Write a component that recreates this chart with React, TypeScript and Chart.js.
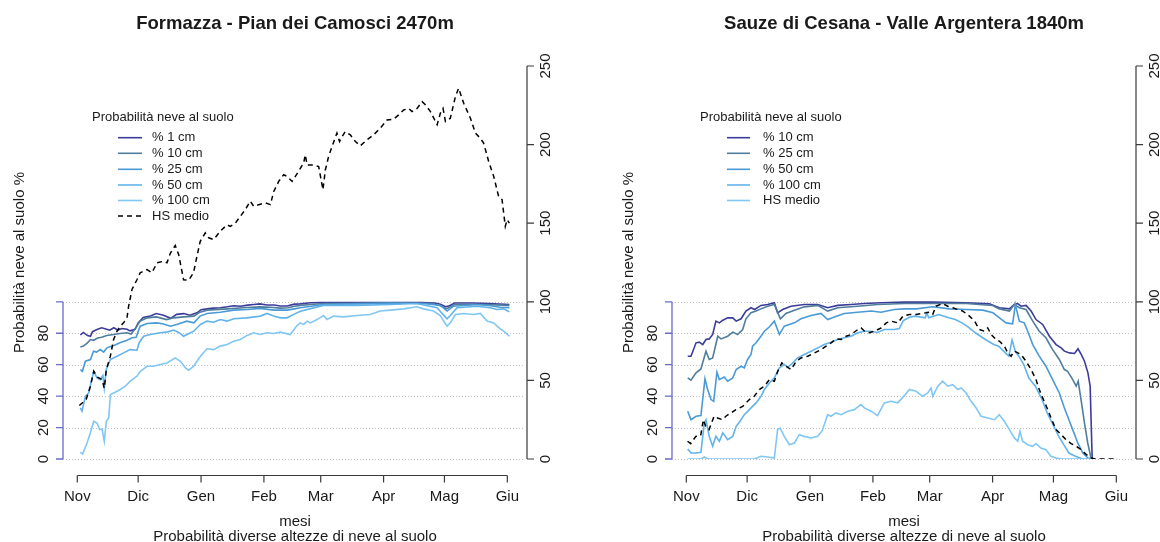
import { useEffect, useRef } from "react";
import { Chart, registerables } from "chart.js";

Chart.register(...registerables);

// ---------- axis / category data ----------
const MONTH_LABELS = ["Nov", "Dic", "Gen", "Feb", "Mar", "Apr", "Mag", "Giu"];
const MONTH_START_DAYS = [0, 30, 61, 92, 120, 151, 181, 212];
const LEFT_TICKS = [0, 20, 40, 60, 80, 100];
const LEFT_TICK_LABELS = [0, 20, 40, 60, 80];
const RIGHT_TICKS = [0, 50, 100, 150, 200, 250];
const GRID_VALUES = [0, 20, 40, 60, 80, 100];

// ---------- Formazza - Pian dei Camosci 2470m ----------  [day, value]
const fmz1cm = [[1.5,79],[3,80.5],[5,78.5],[6.5,78],[7.5,81],[10,82.5],[12,83.5],[14.5,82.5],[16,82],[18,83.5],[20,82],[22,83],[24.5,82.5],[26,81.5],[28.5,82.5],[30,86.5],[32.5,90],[36,91],[39,92.5],[42.5,91.5],[46,89.5],[49,92],[52.5,92.5],[55.5,91.5],[59,93],[61,95],[64,95.5],[67,96],[70.5,96.2],[74,96.8],[77,97.5],[80.5,97.2],[84,97.9],[87,98.3],[90,98.7],[93.5,98],[97,98],[100,97.3],[103.5,97.3],[107,98.5],[110,98.7],[115,99.4],[120,99.5],[130,99.5],[140,99.5],[150,99.5],[160,99.6],[170,99.5],[176,99.2],[179,98.5],[181.5,96.8],[183.5,97.5],[186,99.2],[195,99.2],[203,98.9],[208,98.6],[213,98.3]];
const fmz10cm = [[1.5,71.3],[3,71.8],[5,73.9],[6.5,76],[8,75.5],[10,77],[12,77.5],[14.5,78.6],[18,79.2],[21,79.8],[24.5,80.3],[26.5,79.5],[28,82],[31,87.7],[34.5,89.8],[39,90.4],[44,88.7],[47.5,89.8],[52.5,90.4],[57.5,90.9],[60.5,93.4],[64,94.7],[70,95.2],[74,95.5],[82,96.2],[90,96.8],[95,96.5],[100,96],[104,96.2],[107,97.2],[110,97.7],[115,98.3],[121.5,98.9],[140,99],[160,99.2],[175,98.9],[179,97.5],[182,95.5],[184,96.8],[186,98.3],[200,98.3],[213,97.7]];
const fmz25cm = [[1.5,56.9],[2.5,55.8],[4,62.2],[6.5,63.3],[8,68.6],[9.5,68],[11.3,69.6],[13,68],[14.6,70.7],[18,72.2],[21,73.9],[24.5,75.6],[27,77.1],[29,77.5],[31,84.5],[34.5,86.2],[39,86.6],[42,86],[46,84.5],[49,85.6],[54,87.7],[57.5,86.6],[60.5,90.9],[64,92.6],[70.5,93.4],[77,94.7],[84,95.1],[90,95.8],[97,94.7],[103.5,94.7],[107,95.5],[110,96.2],[121.5,98.3],[138,98.7],[154,99.2],[171,98.9],[179,97.7],[182.3,94.1],[185.5,97.2],[197,98.3],[203.6,97.5],[208.5,96.5],[213,96.3]];
const fmz50cm = [[1.5,32.5],[2.3,30.4],[4,39.9],[5.6,42],[8.1,55.8],[9.7,51.6],[11.3,50.5],[12.6,53.1],[13.3,45.2],[14.3,56.9],[16.3,63.3],[19.6,65.4],[22.8,67.5],[26.1,69.6],[29.4,69.2],[30.5,74],[32.7,78.1],[36,79.2],[40.9,80.3],[44.2,80.7],[47.5,82],[50,80.5],[52.4,78.1],[54.1,79.2],[57.4,81.3],[60.7,85.6],[63.9,87.7],[67.2,87],[70.5,88.7],[73.8,87.7],[77.1,89.2],[83.7,89.8],[90.2,90.9],[93.5,92.6],[96.8,90.9],[100.1,89.8],[103.4,89.8],[106.7,92],[110,94],[121.4,97.7],[137.8,97.7],[154.3,98.3],[167.4,98.9],[177.3,96.2],[182.3,89.2],[183.9,91.3],[187.2,96.2],[197,97.2],[203.6,96.2],[206.9,95.1],[210.2,95.5],[213,93.6]];
const fmz100cm = [[1.5,4.2],[2.6,3.2],[4.8,10.2],[6.4,16.6],[8.1,24],[9.7,22.9],[11,18.7],[12.2,19.1],[13.3,11.3],[14.3,24],[15.5,26.1],[16.3,41],[18.7,42.5],[21.2,44.2],[23.7,46.3],[26.1,49.5],[29.4,52.7],[31.1,55.8],[34.4,59],[37.6,59],[40.9,60.1],[44.2,61.1],[48.3,64.3],[50.8,62.2],[53.3,58],[54.9,56.5],[57.4,59],[59,62.2],[60.7,65.4],[63.9,70.1],[67.2,69.6],[70.5,71.8],[73.8,72.8],[77.1,74.9],[80.4,76],[83.7,78.6],[86.9,80.3],[90.2,79.2],[93.5,80.3],[96.8,79.8],[100.1,80.7],[105,79.2],[108.3,84.9],[109.9,86.6],[111.6,85.6],[113.3,87.7],[114.9,86.6],[118.2,88.7],[121.4,91.3],[123.1,88.7],[126.4,90.9],[131.3,90.4],[137.8,91.3],[144.4,91.9],[149.3,94.1],[154.3,94.7],[160.9,95.5],[167.4,96.8],[170.7,95.5],[175.6,94.1],[178.9,91.3],[182.3,84.5],[183.9,86.6],[186.4,91.9],[190.5,92.6],[195.4,91.9],[198.7,92.6],[202,87.7],[205.3,86.6],[208.5,82.8],[210.2,81.3],[213,78.1]];
const fmzHsMedio = [[1,34],[4.4,38],[6.4,46],[8.1,55.8],[10,52],[12.2,50.5],[13.3,45],[14.3,56.9],[16.3,65.4],[17.9,76],[19.6,81.3],[21.2,84.5],[22.8,86.6],[24.5,89.8],[25.3,97.2],[27,108],[29.4,114],[31,118.5],[34.4,120.5],[36.8,118.5],[39.3,124.8],[42.6,125.8],[44.2,124.8],[45.9,131],[48.3,135.8],[50,130],[52.4,114],[54.9,113.8],[57.3,118.5],[59,129],[60.6,138.5],[63.1,143.8],[64.8,140.7],[67.2,139.6],[70.5,144.9],[73.8,149],[75.4,148],[77.9,150],[80.4,154.4],[82.8,158.6],[85.3,164],[87,160.7],[89.4,161.8],[92.7,162.9],[95.2,161.8],[96.8,170],[99.3,176.6],[101.7,180.8],[103.4,179.8],[105.9,176.6],[109.1,183],[111.6,188.3],[112.4,193.5],[113.3,187],[116.5,187],[119,186],[121.1,171.3],[122.3,184],[123.9,192.5],[125.6,198.8],[128,207.3],[129.3,202],[130.5,205],[132.1,208.3],[134.6,206.2],[137.1,202],[139.5,199.2],[142.8,203],[146.1,206.2],[149.4,210.5],[152.7,215.7],[156,216.2],[158.4,218.9],[160.9,222],[163.4,223],[165,221],[167.5,223],[170,227.3],[171.6,225.3],[174.1,221],[177.4,212.6],[179,220],[180.3,223],[181.5,214.7],[183.9,216.8],[186.4,230.5],[188,235.9],[190.5,226.3],[193.8,216.8],[196.3,207.3],[198.7,204],[200.3,201],[202.8,189.3],[205.3,179.8],[207.7,167],[209.4,165],[211,148],[211.9,152.3],[213,150]];

// ---------- Sauze di Cesana - Valle Argentera 1840m ----------  [day, value]
const szeLine1 = [[0.7,65.4],[2.3,65.4],[4.8,73.9],[6.4,74.3],[8.1,72.8],[9.7,76],[11.3,76.4],[13,79.2],[14.6,87.7],[16.3,86.6],[18,88.3],[20.4,89.8],[22.9,89.8],[24.6,87.7],[27,89.2],[29.4,94.1],[31.9,96.2],[33.7,95.1],[36.8,97.7],[40.1,98.3],[43.4,99.4],[45,93],[47.5,95.1],[51.6,97.2],[58.2,98.3],[64.8,98.3],[69.7,96.2],[74.6,97.7],[81.2,98.3],[87.8,98.9],[96,99.4],[107.5,99.8],[121.5,99.8],[138,99.4],[149.4,98.7],[154.3,96.2],[159.3,95.5],[161.7,98.3],[163.4,98.9],[165,97.2],[167.5,97.7],[170,94.1],[172.4,88.7],[175.7,85.6],[179,78.1],[182.3,72.8],[184.8,70.7],[186.4,68.6],[188.9,67.5],[191.4,67.1],[193.1,70.1],[194.7,66.5],[196.3,62.2],[198,54.8],[199.1,46.3],[199.6,22.9],[200.1,0]];
const szeLine2 = [[0.7,51.6],[2.3,50.1],[4.8,54.8],[7.2,57.3],[9.7,68.6],[11.3,63.3],[13,64.3],[15.5,78.1],[17.1,76.4],[20.4,78.1],[22.9,80.7],[25.3,79.2],[27.8,82.4],[29.4,89.2],[31.9,93],[34.4,94.1],[36.8,95.5],[40.1,97.2],[43.4,98.3],[46.4,89.2],[49.1,92.6],[53.3,94.7],[58.2,96.8],[64.8,97.7],[69.7,94.1],[74.6,96.2],[84.5,97.2],[94.3,98.3],[107.5,98.9],[138,98.9],[151,97.7],[154.3,95.5],[159.3,94.1],[161.7,98.3],[164.2,96.2],[167.5,95.1],[170.8,87.7],[174,81.3],[177.3,77.1],[180.6,69.6],[183.9,63.3],[186.4,56.9],[188,55.8],[190.5,50.5],[192.2,46.3],[193.2,49.5],[194.6,37.8],[196.3,22.9],[197.9,10.2],[199.6,0],[200.1,0]];
const szeLine3 = [[0.7,30.4],[2.3,25],[4.8,27.2],[7.2,27.6],[9.2,51],[10.5,44.2],[12.2,37.8],[13.5,36.7],[15.1,55.2],[16.3,50.5],[18.7,52.2],[20.4,49.5],[22.9,51.6],[24.6,56.9],[27,59],[28.6,58],[30.2,63.3],[31.9,66.5],[32.7,71.8],[34.4,73.9],[36.8,78.1],[38.5,81.3],[41,84.1],[43.4,87.7],[45.9,79.2],[48.3,84.5],[50.8,85.6],[53.3,86.6],[56.5,89.2],[61.5,91.3],[66.4,92.6],[69.7,88.7],[73,90.4],[77.9,92.6],[84.5,93.4],[91.1,94.1],[96,93.4],[102.6,95.1],[107.5,95.5],[113.3,95.5],[121.5,96.8],[129.7,95.5],[138,95.1],[146.2,94.7],[151.2,93],[154.4,89.8],[157.6,86.6],[160.9,86],[162.2,98.3],[164.2,87.7],[166.6,86.6],[168.3,81.3],[170.8,72.8],[174,65.4],[177.3,59],[180.6,50.5],[183.9,42],[186.4,32.5],[188.9,24],[190.5,18.7],[193,10.2],[195.5,3.8],[198,0.6],[200.1,0]];
const szeLine4 = [[0.7,6.4],[2.3,3.8],[4.8,3.8],[7.2,4.2],[8.9,22.9],[9.7,25],[11.3,14.4],[13,8.1],[14.6,14.4],[16.3,11.3],[18,16.6],[20.4,12.3],[22.9,14.4],[24.6,20.8],[26.5,24],[28.6,28.2],[31.9,32.5],[34.4,35.7],[36.8,39.9],[38.5,44.2],[41,48.4],[43.4,51.6],[45.9,58],[48.3,60.1],[50,58.5],[51.6,60.1],[54.9,64.3],[58.2,66.5],[61.5,68.6],[64.8,70.7],[68,72.8],[71.3,74.3],[74.6,76],[77.9,77.1],[81.2,78.1],[84.5,80.3],[87.8,81.3],[91.1,81.3],[94.3,80.5],[97.6,82.4],[102.6,82.4],[105,83],[107,88],[110,90.2],[112.9,90.9],[117.8,89.8],[118.6,93],[119.5,89.8],[124.4,91.9],[129.4,89.8],[132.6,88.7],[135.9,86.6],[138.4,84.5],[142.5,80.3],[147.4,76],[151.6,72.8],[154,71.8],[157.3,67.5],[159,65.4],[160.6,75.6],[162.2,68.6],[163.9,65.4],[166.4,60.1],[168.8,51.6],[172.1,46.3],[175.4,37.8],[177.9,29.3],[180.4,22.9],[183.6,14.4],[186.1,9.1],[188.6,3.8],[191.9,1.7],[195.2,0],[200.1,0]];
const szeLine5 = [[0.7,0],[7.2,0],[8.9,1.3],[10.5,0],[33.5,0],[36.8,1.7],[40.1,1.3],[43.4,0.6],[45,18.7],[46.3,19.7],[48.3,14.4],[50.8,9.1],[53.3,10.2],[55.7,15.5],[58.2,14.4],[61.5,13.4],[64.8,14.4],[67,18],[69.7,28.2],[71.3,27.2],[73.8,29.3],[76.3,28.2],[79.6,30.4],[82.8,31.4],[86.1,34.6],[87.8,32.5],[91.1,30.4],[94.3,27.6],[97.6,35.7],[100.9,36.7],[104.2,35.7],[107.5,40.3],[110,44.2],[113.3,43.1],[116.5,39.9],[119,42],[120.7,45.2],[121.5,39.9],[124,46.3],[126.4,49.5],[128.9,46.3],[131.4,47.3],[133.8,44.2],[135.5,45.2],[138,42],[140.4,36.7],[142.9,32.5],[145.3,27.2],[148.6,26.1],[151.9,25],[154.3,28.2],[156.8,24],[159.3,18.7],[161.7,13.4],[163.4,11.3],[164.5,17.6],[165.8,11.3],[168.3,9.1],[170.7,8.1],[172.4,9.8],[174.8,7],[177.3,5.9],[179.8,1.7],[182.3,0.6],[185.5,0],[200.1,0]];
const szeHsMedio = [[0.6,11.3],[2.2,9.8],[4.7,14.4],[7.1,14.9],[8.4,25],[9.6,20.8],[11.2,18.7],[13.7,27.2],[15.4,26.1],[17.9,25],[19.5,27.2],[22,29.3],[24.5,31.4],[27.8,33.5],[31.1,37.8],[33.5,39.9],[36,44.2],[38.5,46.3],[41,50.5],[43.4,49.5],[45.1,55.8],[47.1,61.1],[49.2,59],[51.7,56.9],[54.2,62.2],[56.6,64.3],[59.9,65.4],[63.2,67.5],[66.5,69.6],[68.9,71.8],[71.4,73.9],[73.9,76.4],[76.3,76],[78.8,78.1],[81.3,79.2],[84.6,82.4],[86.2,83.4],[87.9,81.3],[90.3,80.3],[92.8,81.3],[96.1,83.4],[98.6,86.6],[101,87.7],[104.3,86.6],[106.8,90.9],[110,91.9],[113.3,91.9],[116.5,92.6],[119.8,93.4],[121.5,92],[123.1,97.2],[126.4,98.9],[128.9,97.2],[131.4,96.2],[133.8,95.1],[136.3,94.1],[139.6,90.9],[142.1,87.7],[144.5,82.4],[147,81.3],[148.6,83.4],[150.3,79.2],[152.7,76],[154.4,74.9],[156.8,71.8],[158.5,67.5],[160.1,65.4],[161.7,68.6],[163.4,67.5],[165,66.5],[167.5,62.2],[170,56.9],[172.4,50.5],[174,44.2],[175.7,38.9],[178.2,31.4],[179.8,26.1],[182.3,18.7],[184.8,15.5],[187.2,12.3],[189.7,9.8],[192.2,8.1],[194.7,5.9],[197.2,2.8],[199.6,0.6],[202,0],[212.7,0]];

// ---------- labels ----------
const LEFT_TITLE = "Formazza - Pian dei Camosci 2470m";
const RIGHT_TITLE = "Sauze di Cesana - Valle Argentera 1840m";
const LEFT_LEGEND = ["% 1 cm", "% 10 cm", "% 25 cm", "% 50 cm", "% 100 cm", "HS medio"];
const RIGHT_LEGEND = ["% 10 cm", "% 25 cm", "% 50 cm", "% 100 cm", "HS medio"];
const LEGEND_TITLE = "Probabilità neve al suolo";
const Y_TITLE = "Probabilità neve al suolo %";
const X_TITLE = "mesi";
const SUBTITLE = "Probabilità diverse altezze di neve al suolo";

// ---------- styling ----------
const COLORS = ["#3c3c9a", "#4f7d9c", "#4a9ad6", "#62b3ea", "#80c7f3"];
const LEFT_AXIS_COLOR = "#6a6acc";
const AXIS_COLOR = "#3a3a3a";
const TEXT_COLOR = "#1a1a1a";
const FONT = "'Liberation Sans', Arial, Helvetica, sans-serif";

const PLOT_LEFT = 63;
const PLOT_RIGHT = 527;
const PLOT_TOP = 66;
const PLOT_BOTTOM = 459;
const X_MIN = -7.05;
const X_MAX = 221.7;

type Pt = number[];
type Series = { data: Pt[]; color: string; dash?: number[] };
type LegendItem = { label: string; color: string; dash?: number[] };
type Panel = {
  title: string;
  width: number;
  series: Series[];
  legend: LegendItem[];
  lg: { title: number; l0: number; l1: number; text: number };
};

const LEFT_PANEL: Panel = {
  title: LEFT_TITLE,
  width: 609,
  series: [
    { data: fmz1cm, color: COLORS[0] },
    { data: fmz10cm, color: COLORS[1] },
    { data: fmz25cm, color: COLORS[2] },
    { data: fmz50cm, color: COLORS[3] },
    { data: fmz100cm, color: COLORS[4] },
    { data: fmzHsMedio, color: "#000000", dash: [5, 4] },
  ],
  legend: LEFT_LEGEND.map((l, i) => ({
    label: l,
    color: i < 5 ? COLORS[i] : "#000000",
    dash: i < 5 ? undefined : [5, 4],
  })),
  lg: { title: 92, l0: 118, l1: 142, text: 152 },
};

const RIGHT_PANEL: Panel = {
  title: RIGHT_TITLE,
  width: 551,
  series: [
    { data: szeLine1, color: COLORS[0] },
    { data: szeLine2, color: COLORS[1] },
    { data: szeLine3, color: COLORS[2] },
    { data: szeLine4, color: COLORS[3] },
    { data: szeLine5, color: COLORS[4] },
    { data: szeHsMedio, color: "#000000", dash: [5, 4] },
  ],
  legend: RIGHT_LEGEND.map((l, i) => ({ label: l, color: COLORS[i] })),
  lg: { title: 91, l0: 118, l1: 141, text: 154 },
};

const LEGEND_ROWS_Y = [137.7, 153.3, 169.3, 185, 200.5, 216];

function rotatedText(ctx: CanvasRenderingContext2D, text: string, bx: number, cy: number) {
  ctx.save();
  ctx.translate(bx, cy);
  ctx.rotate(-Math.PI / 2);
  ctx.textAlign = "center";
  ctx.textBaseline = "alphabetic";
  ctx.fillText(text, 0, 0);
  ctx.restore();
}

function panelPlugin(panel: Panel) {
  return {
    id: "rPanel",
    beforeDatasetsDraw(chart: any) {
      const { ctx, chartArea: ca, scales } = chart;
      const y = scales.y;
      ctx.save();
      ctx.strokeStyle = "#c2c2c2";
      ctx.lineWidth = 1;
      ctx.setLineDash([1, 2]);
      for (const v of GRID_VALUES) {
        const py = Math.round(y.getPixelForValue(v)) + 0.5;
        ctx.beginPath();
        ctx.moveTo(ca.left, py);
        ctx.lineTo(ca.right - 3, py);
        ctx.stroke();
      }
      ctx.restore();
    },
    afterDraw(chart: any) {
      const { ctx, chartArea: ca, scales } = chart;
      const x = scales.x;
      const y = scales.y;
      const y2 = scales.y2;
      ctx.save();
      ctx.setLineDash([]);

      // left axis (0-100)
      ctx.strokeStyle = LEFT_AXIS_COLOR;
      ctx.lineWidth = 1.3;
      const xl = ca.left;
      ctx.beginPath();
      ctx.moveTo(xl, y.getPixelForValue(0));
      ctx.lineTo(xl, y.getPixelForValue(100));
      for (const v of LEFT_TICKS) {
        const py = y.getPixelForValue(v);
        ctx.moveTo(xl, py);
        ctx.lineTo(xl - 7, py);
      }
      ctx.stroke();
      ctx.fillStyle = TEXT_COLOR;
      ctx.font = `15px ${FONT}`;
      for (const v of LEFT_TICK_LABELS) rotatedText(ctx, String(v), xl - 15.5, y.getPixelForValue(v));

      // right axis (0-250)
      const xr = ca.right;
      ctx.strokeStyle = AXIS_COLOR;
      ctx.lineWidth = 1.2;
      ctx.beginPath();
      ctx.moveTo(xr, y2.getPixelForValue(0));
      ctx.lineTo(xr, y2.getPixelForValue(250));
      for (const v of RIGHT_TICKS) {
        const py = y2.getPixelForValue(v);
        ctx.moveTo(xr, py);
        ctx.lineTo(xr + 7, py);
      }
      ctx.stroke();
      for (const v of RIGHT_TICKS) rotatedText(ctx, String(v), xr + 22.5, y2.getPixelForValue(v));

      // x axis (detached, R style)
      const ya = 475.5;
      ctx.beginPath();
      ctx.moveTo(x.getPixelForValue(MONTH_START_DAYS[0]), ya);
      ctx.lineTo(x.getPixelForValue(MONTH_START_DAYS[MONTH_START_DAYS.length - 1]), ya);
      for (const d of MONTH_START_DAYS) {
        const px = x.getPixelForValue(d);
        ctx.moveTo(px, ya);
        ctx.lineTo(px, ya + 7);
      }
      ctx.stroke();
      ctx.textAlign = "center";
      ctx.textBaseline = "alphabetic";
      MONTH_LABELS.forEach((m, i) => ctx.fillText(m, x.getPixelForValue(MONTH_START_DAYS[i]), 501));

      const cx = (ca.left + ca.right) / 2;
      // x title + subtitle
      ctx.fillText(X_TITLE, cx, 525.5);
      ctx.fillText(SUBTITLE, cx, 540.5);

      // y title
      rotatedText(ctx, Y_TITLE, 24, (ca.top + ca.bottom) / 2);

      // main title
      ctx.font = `bold 18.5px ${FONT}`;
      ctx.fillText(panel.title, cx, 28.5);

      // legend
      ctx.font = `13px ${FONT}`;
      ctx.textAlign = "left";
      ctx.textBaseline = "middle";
      ctx.fillText(LEGEND_TITLE, panel.lg.title, 117.3);
      panel.legend.forEach((it, i) => {
        const ry = LEGEND_ROWS_Y[i];
        ctx.strokeStyle = it.color;
        ctx.lineWidth = 1.6;
        ctx.setLineDash(it.dash || []);
        ctx.beginPath();
        ctx.moveTo(panel.lg.l0, ry);
        ctx.lineTo(panel.lg.l1, ry);
        ctx.stroke();
        ctx.setLineDash([]);
        ctx.fillText(it.label, panel.lg.text, ry);
      });
      ctx.restore();
    },
  };
}

function buildChart(canvas: HTMLCanvasElement, panel: Panel) {
  const datasets = panel.series
    .map((s, i) => ({
      label: "s" + i,
      data: s.data.map((p) => ({ x: p[0], y: p[1] })),
      borderColor: s.color,
      borderWidth: s.dash ? 1.5 : 1.6,
      borderDash: s.dash || [],
      pointRadius: 0,
      tension: 0,
      fill: false,
      yAxisID: s.dash ? "y2" : "y",
    }))
    .reverse(); // later series drawn on top (dataset 0 is drawn last)
  return new Chart(canvas, {
    type: "line",
    data: { datasets },
    options: {
      responsive: false,
      animation: false,
      events: [],
      layout: {
        padding: {
          left: PLOT_LEFT,
          right: panel.width - PLOT_RIGHT,
          top: PLOT_TOP,
          bottom: 542 - PLOT_BOTTOM,
        },
      },
      plugins: { legend: { display: false }, tooltip: { enabled: false }, title: { display: false } },
      scales: {
        x: { type: "linear", min: X_MIN, max: X_MAX, display: false },
        y: { type: "linear", min: 0, max: 250, display: false },
        y2: { type: "linear", min: 0, max: 250, display: false, position: "right" },
      },
    },
    plugins: [panelPlugin(panel)],
  } as any);
}

export default function App() {
  const leftRef = useRef<HTMLCanvasElement>(null);
  const rightRef = useRef<HTMLCanvasElement>(null);
  useEffect(() => {
    const a = buildChart(leftRef.current as HTMLCanvasElement, LEFT_PANEL);
    const b = buildChart(rightRef.current as HTMLCanvasElement, RIGHT_PANEL);
    return () => {
      a.destroy();
      b.destroy();
    };
  }, []);
  return (
    <div style={{ position: "absolute", left: 0, top: 0, width: 1160, height: 542, background: "#ffffff", overflow: "hidden" }}>
      <canvas ref={leftRef} width={609} height={542} style={{ position: "absolute", left: 0, top: 0, width: 609, height: 542 }} />
      <canvas ref={rightRef} width={551} height={542} style={{ position: "absolute", left: 609, top: 0, width: 551, height: 542 }} />
    </div>
  );
}
